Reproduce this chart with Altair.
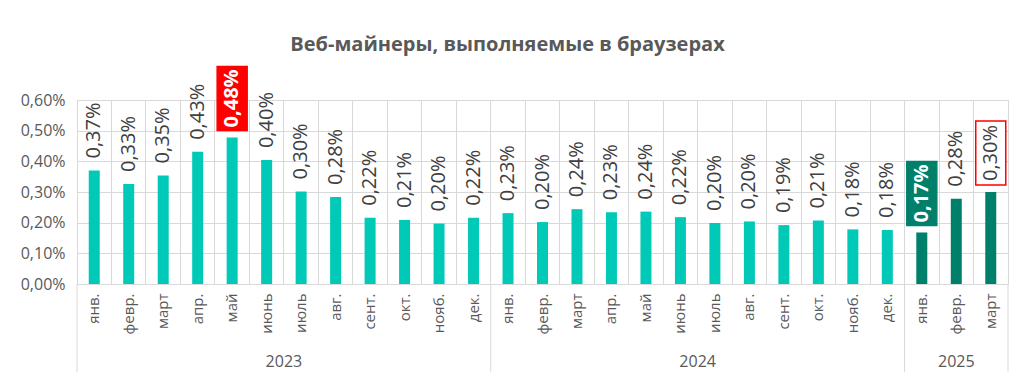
import altair as alt
import pandas as pd

# ---- data ----
years = ["2023"] * 12 + ["2024"] * 12 + ["2025"] * 3
months = ["янв.", "февр.", "март", "апр.", "май", "июнь", "июль", "авг.", "сент.", "окт.", "нояб.", "дек.",
          "янв.", "февр.", "март", "апр.", "май", "июнь", "июль", "авг.", "сент.", "окт.", "нояб.", "дек.",
          "янв.", "февр.", "март"]
values = [0.0037, 0.00326, 0.00354, 0.00431, 0.00478, 0.00404, 0.00302, 0.00284, 0.00216, 0.00209, 0.00197, 0.00216,
          0.00231, 0.00202, 0.00244, 0.00234, 0.00236, 0.00218, 0.00199, 0.00204, 0.00192, 0.00207, 0.00178, 0.00176,
          0.00168, 0.00278, 0.00300]
# highlight style of each bar label: "" plain, "max" red box, "min" dark box, "last" outlined box
highlight = ["", "", "", "", "max", "", "", "", "", "", "", "",
             "", "", "", "", "", "", "", "", "", "", "", "",
             "min", "", "last"]

year_names = ["2023", "2024", "2025"]
year_start = [0, 12, 24]
year_end = [12, 24, 27]

df = pd.DataFrame({
    "key": [f"{i:02d}|{y}|{m}" for i, (y, m) in enumerate(zip(years, months))],
    "year": years,
    "month": months,
    "v": values,
    "hl": highlight,
})
df["grp"] = ["new" if y == "2025" else "old" for y in years]

ydf = pd.DataFrame({"year": year_names, "start": year_start, "end": year_end})
ydf["mid"] = (ydf["start"] + ydf["end"]) / 2
bdf = pd.DataFrame({"b": year_start + [year_end[-1]]})

W, H = 931, 184
TEXT = "#595959"
GRID = "#D9D9D9"
FONT = "Open Sans"
px = 0.006 / H  # one pixel in data units

xscale = alt.Scale(paddingInner=0, paddingOuter=0)
xaxis = alt.Axis(labelExpr="split(datum.label, '|')[2]", labelAngle=-90,
                 labelFontSize=15, labelColor=TEXT, labelFont=FONT, labelPadding=9,
                 ticks=False, domain=False, grid=True, bandPosition=0,
                 gridColor=GRID, labelOverlap=False)
yscale = alt.Scale(domain=[0, 0.006], nice=False)
yaxis = alt.Axis(values=[0, 0.001, 0.002, 0.003, 0.004, 0.005, 0.006], format=".2%",
                 labelFontSize=16, labelColor=TEXT, labelFont=FONT, labelPadding=12,
                 ticks=False, domain=False, gridColor=GRID, labelOverlap=False)


def X():
    return alt.X("key:N", sort=None, title=None, scale=xscale, axis=xaxis)


def Y(field):
    return alt.Y(field, title=None, scale=yscale, axis=yaxis)


base = alt.Chart(df)

bars = base.mark_bar(size=11).encode(
    x=X(), y=Y("v:Q"),
    color=alt.Color("grp:N", scale=alt.Scale(domain=["old", "new"], range=["#00C9B7", "#00806B"]), legend=None),
)

labels = base.transform_filter("datum.hl == ''").mark_text(
    angle=270, align="left", baseline="middle", dx=12, fontSize=20, font=FONT, color="#404040"
).encode(x=X(), y=Y("v:Q"), text=alt.Text("v:Q", format=".2%"))

boxes = base.transform_filter("datum.hl != ''").transform_calculate(
    lo=f"datum.v + {7 * px}", hi=f"datum.v + {71 * px}"
).mark_bar(size=30, strokeWidth=1.5).encode(
    x=X(), y=Y("lo:Q"), y2="hi:Q",
    fill=alt.Fill("hl:N", scale=alt.Scale(domain=["max", "min", "last"], range=["#FF0000", "#00806B", "#FFFFFF"]), legend=None),
    stroke=alt.Stroke("hl:N", scale=alt.Scale(domain=["max", "min", "last"], range=["#FF0000", "#00806B", "#FF0000"]), legend=None),
)

boxtext_bold = base.transform_filter("datum.hl == 'max' || datum.hl == 'min'").transform_calculate(
    mid=f"datum.v + {39 * px}"
).mark_text(angle=270, align="center", baseline="middle", fontSize=20, font=FONT,
            fontWeight="bold", color="#FFFFFF").encode(
    x=X(), y=Y("mid:Q"), text=alt.Text("v:Q", format=".2%"),
)

boxtext_plain = base.transform_filter("datum.hl == 'last'").transform_calculate(
    mid=f"datum.v + {39 * px}"
).mark_text(angle=270, align="center", baseline="middle", fontSize=20, font=FONT,
            color="#404040").encode(
    x=X(), y=Y("mid:Q"), text=alt.Text("v:Q", format=".2%"),
)

main = alt.layer(bars, labels, boxes, boxtext_bold, boxtext_plain)

qx = alt.Scale(domain=[0, 27], nice=False, zero=False)
seps = alt.Chart(bdf).mark_rule(color=GRID, strokeWidth=1).encode(
    x=alt.X("b:Q", scale=qx, axis=None), y=alt.value(H), y2=alt.value(H + 92)
)
yearlab = alt.Chart(ydf).mark_text(fontSize=16, font=FONT, color=TEXT, baseline="middle").encode(
    x=alt.X("mid:Q", scale=qx, axis=None), y=alt.value(H + 78), text="year:N"
)

chart = alt.layer(main, seps, yearlab).resolve_scale(x="independent").properties(
    width=W, height=H,
    title=alt.TitleParams("Веб-майнеры, выполняемые в браузерах", fontSize=20, font=FONT, fontWeight="bold",
                          color=TEXT, anchor="middle", frame="group", dx=-35, offset=11),
    autosize=alt.AutoSizeParams(type="none"),
    padding={"left": 69, "top": 92, "right": 6, "bottom": 88},
).configure_view(stroke=GRID).configure_axis(gridColor=GRID)

chart.save("out.html", embed_options={"renderer": "svg", "actions": False,
                                      "formatLocale": {"decimal": ",", "thousands": "\u00a0", "grouping": [3],
                                                       "currency": ["", "\u00a0₽"]}})
